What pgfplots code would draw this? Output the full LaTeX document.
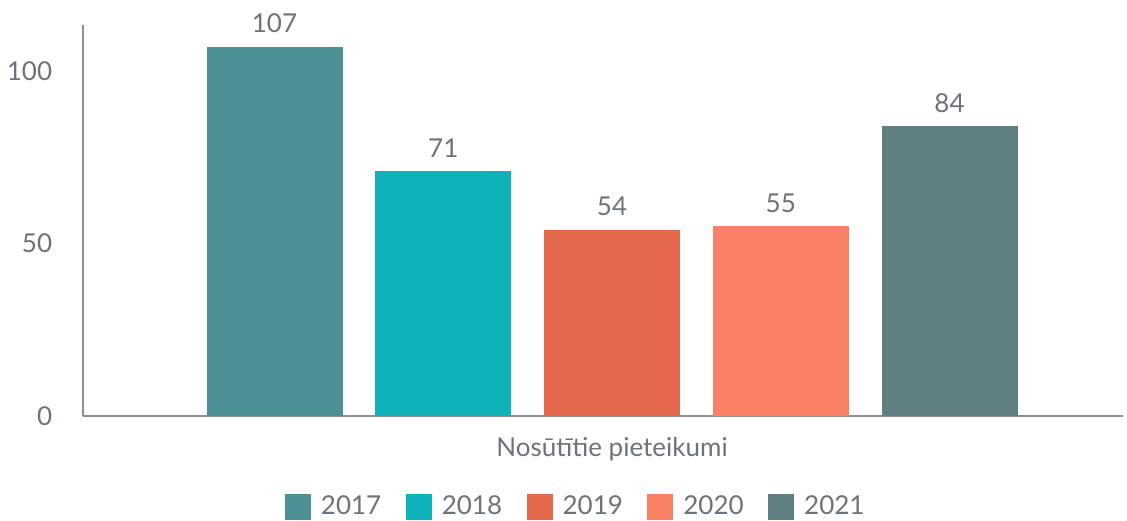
\documentclass[border=0pt]{standalone}
\usepackage{pgfplots}
\pgfplotsset{compat=1.18}
\usepackage{fontspec}
\setmainfont{Lato}
\definecolor{c17}{HTML}{4D9194}
\definecolor{c18}{HTML}{10B2BA}
\definecolor{c19}{HTML}{E4694C}
\definecolor{c20}{HTML}{FA8166}
\definecolor{c21}{HTML}{5F7F83}
\definecolor{txt}{HTML}{6D737A}
\definecolor{axl}{HTML}{8A9096}
\begin{document}
\fontsize{26}{30}\selectfont
\begin{tikzpicture}
\path[use as bounding box] (-83pt,-104pt) rectangle (1044pt,416pt);
\begin{axis}[
  scale only axis,
  width=1040pt, height=391pt,
  xmin=83, xmax=1123, ymin=0, ymax=113.3,
  axis x line*=bottom, axis y line*=left,
  axis line style={axl, line width=1.3pt, -},
  ybar=32.75pt, bar width=136,
  xtick={612}, xticklabels={Nosūtītie pieteikumi},
  ytick={0,50,100},
  major tick length=0pt,
  tick label style={txt, font=\fontsize{26}{30}\selectfont},
  /pgf/number format/assume math mode=true,
  yticklabel style={xshift=-22pt},
  xticklabel style={yshift=-12pt},
  nodes near coords,
  every node near coord/.append style={txt, font=\fontsize{26}{30}\selectfont, yshift=5pt},
  legend columns=5,
  legend style={draw=none, at={(0.194,-0.233)}, anchor=west, inner sep=0pt,
    font=\fontsize{26}{30}\selectfont, text=txt,
    /tikz/every odd column/.append style={column sep=8pt},
    /tikz/every even column/.append style={column sep=22.5pt}},
  legend image code/.code={\fill[#1] (0pt,-13pt) rectangle (26pt,13pt);},
  every axis plot/.append style={draw=none},
]
\addplot[fill=c17] coordinates {(612,107)};
\addplot[fill=c18] coordinates {(612,71)};
\addplot[fill=c19] coordinates {(612,54)};
\addplot[fill=c20] coordinates {(612,55)};
\addplot[fill=c21] coordinates {(612,84)};
\legend{2017,2018,2019,2020,2021}
\end{axis}
\end{tikzpicture}
\end{document}
